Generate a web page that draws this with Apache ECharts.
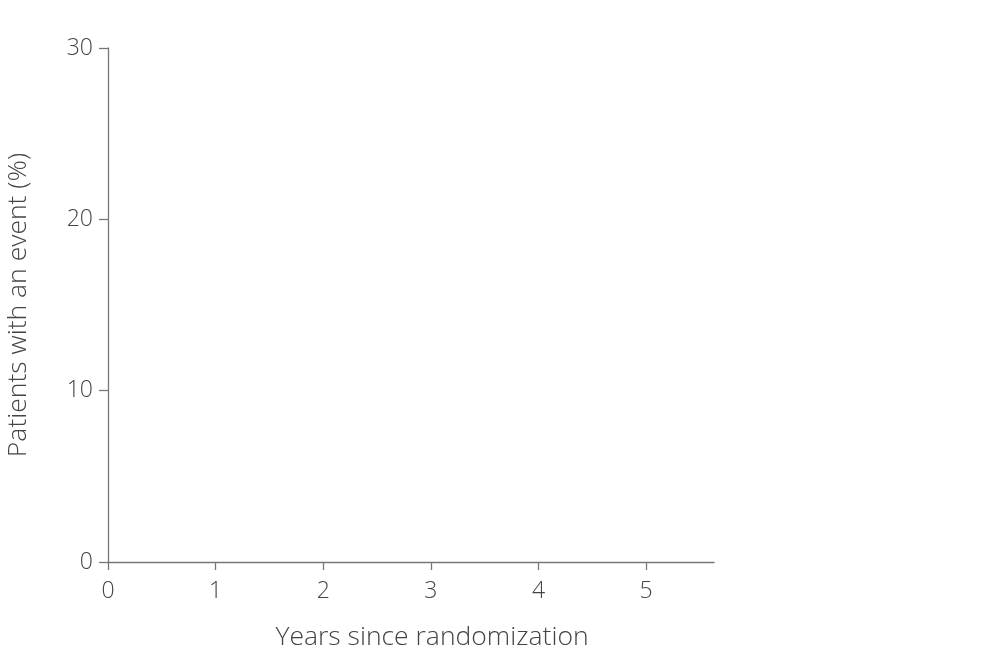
<!DOCTYPE html>
<html><head><meta charset="utf-8">
<script src="https://cdn.jsdelivr.net/npm/echarts@6/dist/echarts.min.js"></script>
<style>html,body{margin:0;padding:0;background:#fff}#c{width:999px;height:660px}</style>
</head><body><div id="c"></div>
<script>
var xTicks = [0, 1, 2, 3, 4, 5];
var yTicks = [0, 10, 20, 30];
var xName = 'Years since randomization';
var yName = 'Patients with an event (%)';
var fontFam = '"Open Sans", sans-serif';
var chart = echarts.init(document.getElementById('c'));
chart.setOption({
  animation: false,
  grid: {left: 108, right: 285, top: 48, bottom: 98, containLabel: false, outerBoundsMode: 'none'},
  xAxis: {
    type: 'value', min: 0, max: 5.63, interval: 1,
    name: xName, nameLocation: 'middle', nameGap: 62,
    nameTextStyle: {fontSize: 26.5, color: '#444', fontFamily: fontFam, fontWeight: 300, padding: [0, 0, 0, 42]},
    axisLine: {lineStyle: {color: '#777', width: 1.3}},
    axisTick: {show: true, length: 8, lineStyle: {color: '#777', width: 1.3}},
    axisLabel: {fontSize: 23, color: '#444', fontFamily: fontFam, fontWeight: 300, margin: 18, showMaxLabel: false,
      formatter: function(v){ return xTicks.indexOf(v) >= 0 ? String(v) : ''; }},
    splitLine: {show: false}
  },
  yAxis: {
    type: 'value', min: 0, max: 30, interval: 10,
    name: yName, nameLocation: 'middle', nameGap: 76, nameRotate: 90,
    nameTextStyle: {fontSize: 26.5, color: '#444', fontFamily: fontFam, fontWeight: 300},
    axisLine: {show: true, lineStyle: {color: '#777', width: 1.3}},
    axisTick: {show: true, length: 9, lineStyle: {color: '#777', width: 1.3}},
    axisLabel: {fontSize: 23, color: '#444', fontFamily: fontFam, fontWeight: 300, margin: 15,
      formatter: function(v){ return yTicks.indexOf(v) >= 0 ? String(v) : ''; }},
    splitLine: {show: false}
  },
  series: [{type: 'line', data: []}]
});
</script></body></html>
